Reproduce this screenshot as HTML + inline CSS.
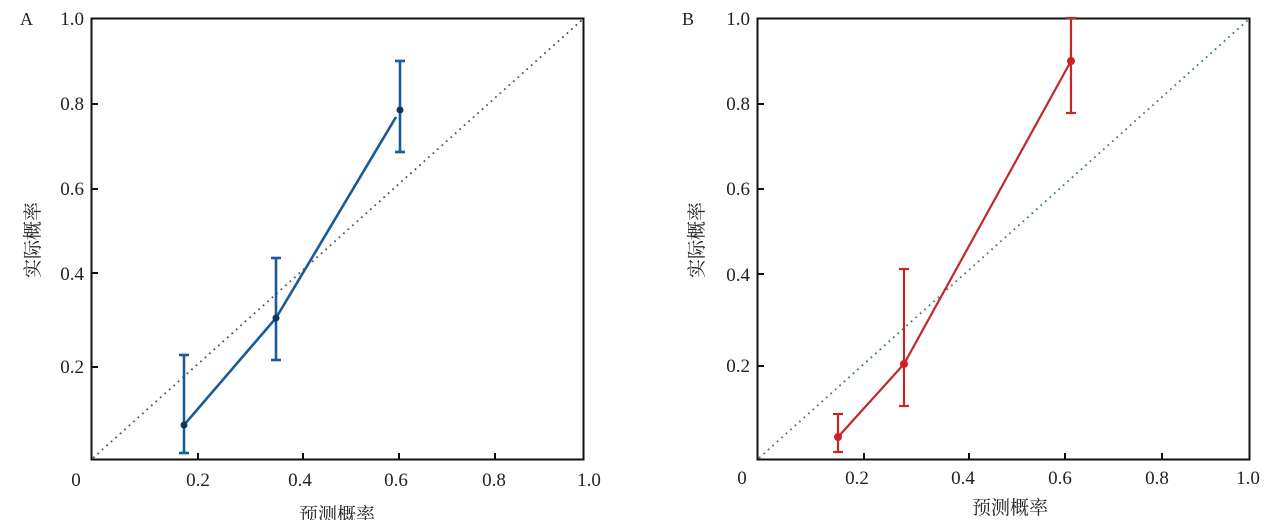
<!DOCTYPE html>
<html><head><meta charset="utf-8"><style>
html,body{margin:0;padding:0;background:#fff;}
svg text{font-family:"Liberation Serif","Noto Serif CJK SC",serif;fill:#222;}
</style></head><body>
<svg width="1268" height="520" viewBox="0 0 1268 520" xmlns="http://www.w3.org/2000/svg">
<!-- Panel A -->
<text x="20" y="25" font-size="18">A</text>
<rect x="91.5" y="18.5" width="492" height="441" fill="none" stroke="#111" stroke-width="2"/>
<g stroke="#111" stroke-width="2">
<line x1="92" y1="104" x2="98" y2="104"/><line x1="92" y1="189" x2="98" y2="189"/>
<line x1="92" y1="273" x2="98" y2="273"/><line x1="92" y1="367" x2="98" y2="367"/>
<line x1="198" y1="459" x2="198" y2="453"/><line x1="303" y1="459" x2="303" y2="453"/>
<line x1="399" y1="459" x2="399" y2="453"/><line x1="495" y1="459" x2="495" y2="453"/>
</g>
<g font-size="19" text-anchor="end">
<text x="84" y="25">1.0</text><text x="84" y="110">0.8</text><text x="84" y="195">0.6</text>
<text x="84" y="280">0.4</text><text x="84" y="373">0.2</text>
</g>
<g font-size="19" text-anchor="middle">
<text x="76" y="486">0</text><text x="198" y="486">0.2</text><text x="300" y="486">0.4</text>
<text x="396" y="486">0.6</text><text x="494" y="486">0.8</text><text x="589" y="486">1.0</text>
</g>
<text x="337" y="521" font-size="19" text-anchor="middle">预测概率</text>
<text transform="translate(39,240) rotate(-90)" font-size="19" text-anchor="middle">实际概率</text>
<line x1="93" y1="458" x2="582" y2="20" stroke="#556" stroke-width="1.8" stroke-dasharray="1.8,4.2"/>
<g stroke="#1a5a9a" stroke-width="2.6" fill="none">
<polyline points="184,425 276,318 396,117"/>
<line x1="184" y1="355" x2="184" y2="453"/><line x1="179" y1="355" x2="189" y2="355"/><line x1="179" y1="453" x2="189" y2="453"/>
<line x1="276" y1="258" x2="276" y2="360"/><line x1="271" y1="258" x2="281" y2="258"/><line x1="271" y1="360" x2="281" y2="360"/>
<line x1="400" y1="61" x2="400" y2="152"/><line x1="395" y1="61" x2="405" y2="61"/><line x1="395" y1="152" x2="405" y2="152"/>
</g>
<g fill="#12345a"><circle cx="184" cy="425" r="3.5"/><circle cx="276" cy="318" r="3.5"/><circle cx="400" cy="110" r="3.5"/></g>

<!-- Panel B -->
<text x="682" y="25" font-size="18">B</text>
<rect x="757.5" y="18.5" width="492" height="441" fill="none" stroke="#111" stroke-width="2"/>
<g stroke="#111" stroke-width="2">
<line x1="758" y1="104" x2="764" y2="104"/><line x1="758" y1="189" x2="764" y2="189"/>
<line x1="758" y1="274" x2="764" y2="274"/><line x1="758" y1="366" x2="764" y2="366"/>
<line x1="864" y1="459" x2="864" y2="453"/><line x1="969" y1="459" x2="969" y2="453"/>
<line x1="1065" y1="459" x2="1065" y2="453"/><line x1="1162" y1="459" x2="1162" y2="453"/>
</g>
<g font-size="19" text-anchor="end">
<text x="750" y="25">1.0</text><text x="750" y="110">0.8</text><text x="750" y="195">0.6</text>
<text x="750" y="281">0.4</text><text x="750" y="372">0.2</text>
</g>
<g font-size="19" text-anchor="middle">
<text x="742" y="484">0</text><text x="857" y="484">0.2</text><text x="963" y="484">0.4</text>
<text x="1060" y="484">0.6</text><text x="1157" y="484">0.8</text><text x="1248" y="484">1.0</text>
</g>
<text x="1010" y="514" font-size="19" text-anchor="middle">预测概率</text>
<text transform="translate(703,240) rotate(-90)" font-size="19" text-anchor="middle">实际概率</text>
<line x1="759" y1="458" x2="1248" y2="20" stroke="#4a7a7a" stroke-width="1.8" stroke-dasharray="1.8,4.2"/>
<g stroke="#c0282a" stroke-width="2.2" fill="none">
<polyline points="838,437 904,364 1071,61"/>
<line x1="838" y1="414" x2="838" y2="452"/><line x1="833" y1="414" x2="843" y2="414"/><line x1="833" y1="452" x2="843" y2="452"/>
<line x1="904" y1="269" x2="904" y2="406"/><line x1="899" y1="269" x2="909" y2="269"/><line x1="899" y1="406" x2="909" y2="406"/>
<line x1="1071" y1="18" x2="1071" y2="113"/><line x1="1066" y1="18" x2="1076" y2="18"/><line x1="1066" y1="113" x2="1076" y2="113"/>
</g>
<g fill="#d02020"><circle cx="838" cy="437" r="4"/><circle cx="904" cy="364" r="4"/><circle cx="1071" cy="61" r="4"/></g>
</svg>
</body></html>
